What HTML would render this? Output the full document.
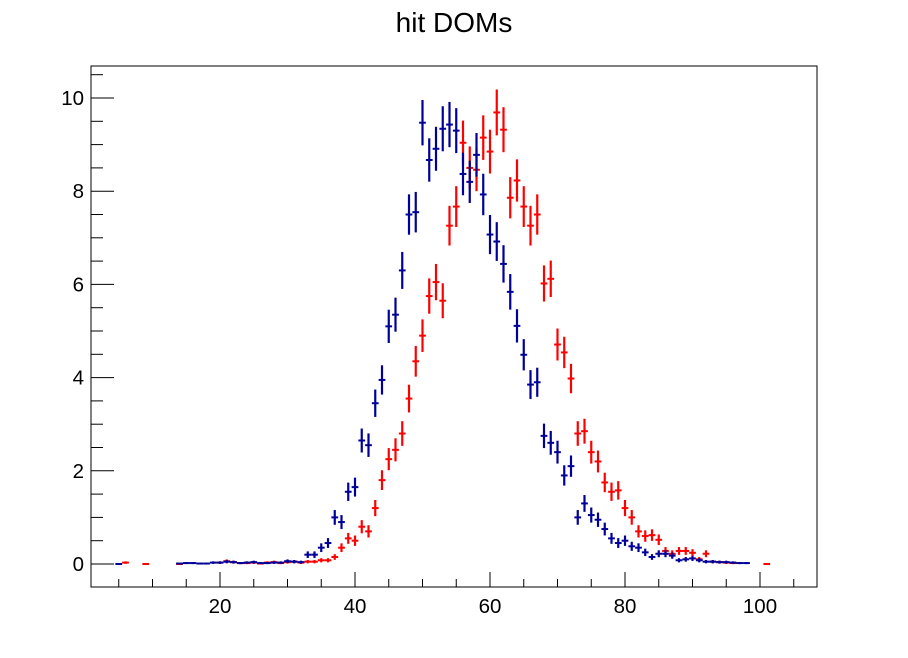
<!DOCTYPE html>
<html><head><meta charset="utf-8"><style>
body{margin:0;background:#fff}
svg text{font-family:"Liberation Sans",sans-serif}
</style></head><body>
<svg id="c" width="908" height="653" viewBox="0 0 908 653" xmlns="http://www.w3.org/2000/svg">
<rect width="908" height="653" fill="#fff"/>
<text x="454" y="32" font-size="28" text-anchor="middle">hit DOMs</text>
<rect x="91" y="66" width="726" height="521" fill="none" stroke="#000" stroke-width="1"/>
<g id="axes"></g><g id="series"></g>
</svg>
<script>
const blueX=[5,14,15,16,17,18,19,20,21,22,23,24,25,26,27,28,29,30,31,32,33,34,35,36,37,38,39,40,41,42,43,44,45,46,47,48,49,50,51,52,53,54,55,56,57,58,59,60,61,62,63,64,65,66,67,68,69,70,71,72,73,74,75,76,77,78,79,80,81,82,83,84,85,86,87,88,89,90,91,92,93,94,95,96,97,98];
const blueY=[0,0.01,0.02,0.02,0.01,0.01,0.03,0.03,0.05,0.04,0.02,0.03,0.04,0.02,0.02,0.03,0.03,0.06,0.05,0.04,0.2,0.2,0.35,0.45,1.0,0.9,1.55,1.65,2.65,2.55,3.45,3.95,5.1,5.35,6.3,7.5,7.55,9.47,8.67,8.91,9.34,9.43,9.3,8.37,8.2,8.78,7.93,7.07,6.92,6.44,5.84,5.11,4.49,3.85,3.9,2.75,2.6,2.4,1.9,2.1,1.0,1.3,1.05,0.95,0.75,0.55,0.45,0.5,0.38,0.35,0.25,0.15,0.22,0.22,0.18,0.08,0.1,0.12,0.08,0.05,0.05,0.04,0.04,0.03,0.02,0.02];
const redX=[6,9,14,20,21,22,23,24,25,26,27,28,29,30,31,32,33,34,35,36,37,38,39,40,41,42,43,44,45,46,47,48,49,50,51,52,53,54,55,56,57,58,59,60,61,62,63,64,65,66,67,68,69,70,71,72,73,74,75,76,77,78,79,80,81,82,83,84,85,86,87,88,89,90,91,92,93,94,95,96,101];
const redY=[0.03,0,0,0.03,0.06,0.04,0.02,0.02,0.03,0.01,0.03,0.04,0.02,0.04,0.05,0.03,0.05,0.05,0.08,0.08,0.15,0.35,0.55,0.5,0.8,0.7,1.2,1.8,2.25,2.45,2.8,3.55,4.35,4.9,5.75,6.05,5.65,7.26,7.67,9.04,8.5,8.46,9.15,8.85,9.69,9.32,7.86,8.23,7.67,7.26,7.5,6.02,6.12,4.71,4.54,3.98,2.8,2.85,2.4,2.2,1.75,1.55,1.58,1.2,1.0,0.7,0.6,0.62,0.52,0.28,0.22,0.28,0.28,0.24,0.1,0.22,0.05,0.04,0.03,0.02,0];
const xTickLabels=[20,40,60,80,100];
const yTickLabels=[0,2,4,6,8,10];
const NS='http://www.w3.org/2000/svg';
const sx=v=>85+6.75*v, sy=v=>564-46.6*v;
function mk(tag,attrs,parent){const e=document.createElementNS(NS,tag);for(const k in attrs)e.setAttribute(k,attrs[k]);parent.appendChild(e);return e;}
const ax=document.getElementById('axes');
for(let v=5;v<=105;v+=5){const major=v%20===0;const l=mk('line',{x1:sx(v),x2:sx(v),y1:587,y2:major?572:579,stroke:'#000'},ax);

}
xTickLabels.forEach(v=>{const t=mk('text',{x:sx(v),y:613,'font-size':20.5,'text-anchor':'middle'},ax);t.textContent=v;

});
for(let v=0;v<=10.5;v+=0.5){const major=Math.abs(v%2)<1e-6;const l=mk('line',{x1:91,x2:major?114:103,y1:sy(v),y2:sy(v),stroke:'#000'},ax);

}
yTickLabels.forEach(v=>{const t=mk('text',{x:84,y:sy(v)+7,'font-size':20.5,'text-anchor':'end'},ax);t.textContent=v;

});
const sg=document.getElementById('series');
function draw(xs,ys,color,name){const g=mk('g',{},sg);


xs.forEach((x,i)=>{const v=ys[i];const e=Math.sqrt(v/40);
mk('line',{x1:sx(x-0.5),x2:sx(x+0.5),y1:sy(v),y2:sy(v),stroke:color,'stroke-width':2},g);
if(e>0.02)mk('line',{x1:sx(x),x2:sx(x),y1:sy(v-e),y2:sy(v+e),stroke:color,'stroke-width':2.2},g);});}
draw(redX,redY,'#ff0000','red-series');
draw(blueX,blueY,'#000099','blue-series');
</script>
</body></html>
